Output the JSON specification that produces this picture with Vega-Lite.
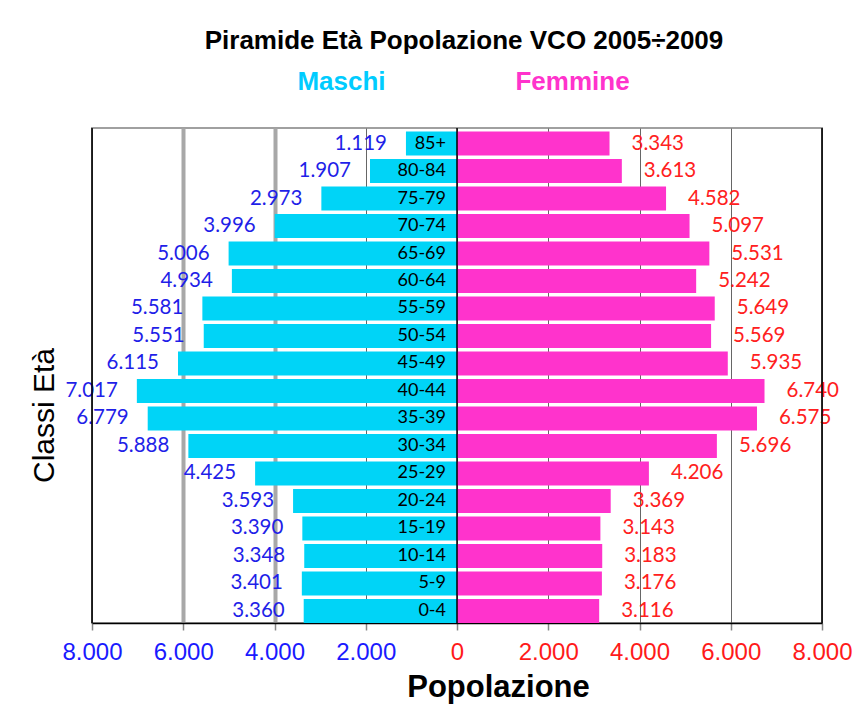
{
  "$schema": "https://vega.github.io/schema/vega-lite/v6.json",
  "width": 730,
  "height": 495,
  "autosize": {"type": "none"},
  "padding": {"left": 92, "top": 128, "right": 39, "bottom": 92},
  "background": "white",
  "config": {
    "locale": {"number": {"decimal": ",", "thousands": ".", "grouping": [3], "currency": ["€", ""]}},
    "view": {"stroke": "#a0a0a0", "strokeWidth": 2},
    "font": "Liberation Sans"
  },
  "title": {
    "text": "Piramide Età Popolazione VCO 2005÷2009",
    "font": "Liberation Sans",
    "fontSize": 26,
    "fontWeight": "bold",
    "color": "#000000",
    "anchor": "middle",
    "dx": 7,
    "baseline": "alphabetic",
    "offset": -7
  },
  "data": {
    "values": [
      {"eta": "85+", "sesso": "Maschi", "popolazione": 1119},
      {"eta": "80-84", "sesso": "Maschi", "popolazione": 1907},
      {"eta": "75-79", "sesso": "Maschi", "popolazione": 2973},
      {"eta": "70-74", "sesso": "Maschi", "popolazione": 3996},
      {"eta": "65-69", "sesso": "Maschi", "popolazione": 5006},
      {"eta": "60-64", "sesso": "Maschi", "popolazione": 4934},
      {"eta": "55-59", "sesso": "Maschi", "popolazione": 5581},
      {"eta": "50-54", "sesso": "Maschi", "popolazione": 5551},
      {"eta": "45-49", "sesso": "Maschi", "popolazione": 6115},
      {"eta": "40-44", "sesso": "Maschi", "popolazione": 7017},
      {"eta": "35-39", "sesso": "Maschi", "popolazione": 6779},
      {"eta": "30-34", "sesso": "Maschi", "popolazione": 5888},
      {"eta": "25-29", "sesso": "Maschi", "popolazione": 4425},
      {"eta": "20-24", "sesso": "Maschi", "popolazione": 3593},
      {"eta": "15-19", "sesso": "Maschi", "popolazione": 3390},
      {"eta": "10-14", "sesso": "Maschi", "popolazione": 3348},
      {"eta": "5-9", "sesso": "Maschi", "popolazione": 3401},
      {"eta": "0-4", "sesso": "Maschi", "popolazione": 3360},
      {"eta": "85+", "sesso": "Femmine", "popolazione": 3343},
      {"eta": "80-84", "sesso": "Femmine", "popolazione": 3613},
      {"eta": "75-79", "sesso": "Femmine", "popolazione": 4582},
      {"eta": "70-74", "sesso": "Femmine", "popolazione": 5097},
      {"eta": "65-69", "sesso": "Femmine", "popolazione": 5531},
      {"eta": "60-64", "sesso": "Femmine", "popolazione": 5242},
      {"eta": "55-59", "sesso": "Femmine", "popolazione": 5649},
      {"eta": "50-54", "sesso": "Femmine", "popolazione": 5569},
      {"eta": "45-49", "sesso": "Femmine", "popolazione": 5935},
      {"eta": "40-44", "sesso": "Femmine", "popolazione": 6740},
      {"eta": "35-39", "sesso": "Femmine", "popolazione": 6575},
      {"eta": "30-34", "sesso": "Femmine", "popolazione": 5696},
      {"eta": "25-29", "sesso": "Femmine", "popolazione": 4206},
      {"eta": "20-24", "sesso": "Femmine", "popolazione": 3369},
      {"eta": "15-19", "sesso": "Femmine", "popolazione": 3143},
      {"eta": "10-14", "sesso": "Femmine", "popolazione": 3183},
      {"eta": "5-9", "sesso": "Femmine", "popolazione": 3176},
      {"eta": "0-4", "sesso": "Femmine", "popolazione": 3116}
    ]
  },
  "transform": [
    {"calculate": "datum.sesso === 'Maschi' ? -datum.popolazione : datum.popolazione", "as": "pos"}
  ],
  "layer": [
    {
      "mark": {"type": "bar"},
      "encoding": {
        "y": {
          "field": "eta",
          "type": "nominal",
          "sort": ["85+", "80-84", "75-79", "70-74", "65-69", "60-64", "55-59", "50-54", "45-49", "40-44", "35-39", "30-34", "25-29", "20-24", "15-19", "10-14", "5-9", "0-4"],
          "scale": {"paddingInner": 0.127, "paddingOuter": 0.0636, "align": 1},
          "axis": {
            "orient": "left",
            "title": "Classi Età",
            "titleFont": "Liberation Sans",
            "titleFontSize": 30,
            "titleFontWeight": "normal",
            "titleColor": "#000000",
            "titleAngle": -90,
            "titleAlign": "center",
            "titleBaseline": "alphabetic",
            "titleX": -39,
            "titleY": 287,
            "labels": false,
            "ticks": false,
            "domain": false,
            "grid": false
          }
        },
        "x": {
          "field": "pos",
          "type": "quantitative",
          "scale": {"domain": [-8000, 8000], "nice": false, "zero": false},
          "axis": {
            "orient": "bottom",
            "values": [-8000, -6000, -4000, -2000, 0, 2000, 4000, 6000, 8000],
            "labelExpr": "replace(format(abs(datum.value), ','), ',', '.')",
            "labelFont": "Liberation Sans",
            "labelFontSize": 24,
            "labelColor": {"condition": {"test": "datum.value < 0", "value": "#1a1aff"}, "value": "#ff1a1a"},
            "labelPadding": 10,
            "labelFlush": false,
            "labelOverlap": false,
            "tickSize": 7,
            "tickColor": "#888888",
            "tickWidth": 1.5,
            "domainColor": "#000000",
            "domainWidth": 1.5,
            "grid": true,
            "gridColor": {"condition": {"test": "datum.value == -6000 || datum.value == -4000", "value": "#a8a8a8"}, "value": "#666666"},
            "gridWidth": {"condition": {"test": "datum.value == -6000 || datum.value == -4000", "value": 4}, "value": 1},
            "title": "Popolazione",
            "titleFont": "Liberation Sans",
            "titleFontSize": 31,
            "titleFontWeight": "bold",
            "titleColor": "#000000",
            "titleAlign": "center",
            "titleBaseline": "alphabetic",
            "titleX": 406,
            "titleY": 73
          }
        },
        "color": {
          "field": "sesso",
          "type": "nominal",
          "scale": {"domain": ["Maschi", "Femmine"], "range": ["#00d4f7", "#ff33cc"]},
          "legend": null
        }
      }
    },
    {
      "transform": [{"filter": "datum.sesso === 'Maschi'"}],
      "mark": {"type": "text", "align": "right", "baseline": "middle", "dx": -19, "font": "Lato", "fontSize": 20.5, "color": "#1f1fe8"},
      "encoding": {
        "y": {"field": "eta", "type": "nominal", "sort": ["85+", "80-84", "75-79", "70-74", "65-69", "60-64", "55-59", "50-54", "45-49", "40-44", "35-39", "30-34", "25-29", "20-24", "15-19", "10-14", "5-9", "0-4"]},
        "x": {"field": "pos", "type": "quantitative", "axis": null},
        "text": {"field": "popolazione", "type": "quantitative", "format": ","}
      }
    },
    {
      "transform": [{"filter": "datum.sesso === 'Femmine'"}],
      "mark": {"type": "text", "align": "left", "baseline": "middle", "dx": 22, "font": "Lato", "fontSize": 20.5, "color": "#ff2020"},
      "encoding": {
        "y": {"field": "eta", "type": "nominal", "sort": ["85+", "80-84", "75-79", "70-74", "65-69", "60-64", "55-59", "50-54", "45-49", "40-44", "35-39", "30-34", "25-29", "20-24", "15-19", "10-14", "5-9", "0-4"]},
        "x": {"field": "pos", "type": "quantitative", "axis": null},
        "text": {"field": "popolazione", "type": "quantitative", "format": ","}
      }
    },
    {
      "transform": [{"filter": "datum.sesso === 'Maschi'"}],
      "mark": {"type": "text", "align": "right", "baseline": "middle", "dx": -11, "font": "Lato", "fontSize": 18, "color": "#000000"},
      "encoding": {
        "y": {"field": "eta", "type": "nominal", "sort": ["85+", "80-84", "75-79", "70-74", "65-69", "60-64", "55-59", "50-54", "45-49", "40-44", "35-39", "30-34", "25-29", "20-24", "15-19", "10-14", "5-9", "0-4"]},
        "x": {"datum": 0, "type": "quantitative", "axis": null},
        "text": {"field": "eta", "type": "nominal"}
      }
    },
    {
      "data": {"values": [{"v": -8000}, {"v": 0}, {"v": 8000}]},
      "mark": {"type": "rule", "color": "#000000", "strokeWidth": 1.5},
      "encoding": {
        "x": {"field": "v", "type": "quantitative", "axis": null}
      }
    },
    {
      "data": {"values": [{"gruppo": "Maschi", "centro": -2542}, {"gruppo": "Femmine", "centro": 2521}]},
      "mark": {"type": "rule", "opacity": 0},
      "encoding": {
        "x": {
          "field": "centro",
          "type": "quantitative",
          "axis": {
            "orient": "top",
            "values": [-2542, 2521],
            "labelExpr": "datum.value < 0 ? 'Maschi' : 'Femmine'",
            "labelFont": "Liberation Sans",
            "labelFontSize": 26,
            "labelFontWeight": "bold",
            "labelColor": {"condition": {"test": "datum.value < 0", "value": "#00ccff"}, "value": "#ff33cc"},
            "labelPadding": 34,
            "labelFlush": false,
            "labelOverlap": false,
            "ticks": false,
            "tickSize": 0,
            "domain": false,
            "grid": false,
            "title": null
          }
        }
      }
    }
  ]
}
